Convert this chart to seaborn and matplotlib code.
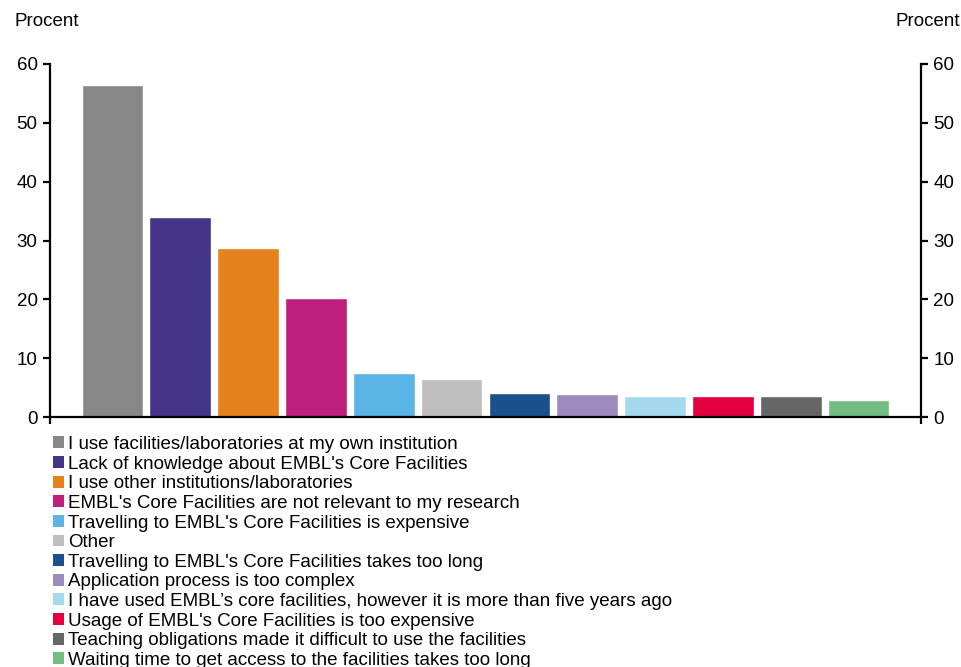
import matplotlib
matplotlib.use("Agg")
import matplotlib.pyplot as plt
import seaborn as sns
import pandas as pd
from matplotlib.patches import Patch

categories = [
    "I use facilities/laboratories at my own institution",
    "Lack of knowledge about EMBL's Core Facilities",
    "I use other institutions/laboratories",
    "EMBL's Core Facilities are not relevant to my research",
    "Travelling to EMBL's Core Facilities is expensive",
    "Other",
    "Travelling to EMBL's Core Facilities takes too long",
    "Application process is too complex",
    "I have used EMBL\u2019s core facilities, however it is more than five years ago",
    "Usage of EMBL's Core Facilities is too expensive",
    "Teaching obligations made it difficult to use the facilities",
    "Waiting time to get access to the facilities takes too long",
]
values = [56.4, 34.0, 28.7, 20.2, 7.5, 6.5, 4.1, 3.9, 3.6, 3.6, 3.6, 2.9]
colors = ["#878787", "#46338A", "#E6821E", "#BE1E7D", "#5AB4E6", "#BEBEBE",
          "#1A508C", "#9E8BBE", "#A5DAEE", "#E20041", "#666666", "#73BD82"]
yticks = [0, 10, 20, 30, 40, 50, 60]

sns.set_theme(style="white")
plt.rcParams['font.family'] = ['Liberation Sans', 'DejaVu Sans']
plt.rcParams['text.color'] = 'black'
plt.rcParams['xtick.color'] = 'black'
plt.rcParams['ytick.color'] = 'black'

df = pd.DataFrame({"cat": categories, "val": values})

fig = plt.figure(figsize=(9.62, 6.67), dpi=100)
ax = fig.add_axes([50/962, 1-417/667, (921-50)/962, (417-64)/667])

sns.barplot(data=df, x="cat", y="val", hue="cat", palette=colors,
            order=categories, hue_order=categories, width=0.91,
            legend=False, ax=ax, saturation=1)

ax.set_xlim(-0.92, 11.92)
ax.set_ylim(0, 60)
ax.set_yticks(yticks)
ax.set_yticklabels([str(t) for t in yticks])
ax.set_xticks([-0.92, 11.92])
ax.set_xticklabels(["", ""])
ax.set_xlabel("")
ax.set_ylabel("")

for s in ["left", "right", "bottom"]:
    ax.spines[s].set_visible(True)
    ax.spines[s].set_linewidth(1.6)
    ax.spines[s].set_color("black")
ax.spines["top"].set_visible(False)

ax.tick_params(axis="y", which="both", left=True, right=True, labelleft=True,
               labelright=True, direction="out", length=5, width=1.6,
               labelsize=13.5, color="black", labelcolor="black", pad=4)
ax.tick_params(axis="x", bottom=True, direction="out", length=5, width=1.6, color="black")

fig.text(15/962, 1-22/667, "Procent", fontsize=13.5, ha="left", va="center", color="black")
fig.text(960/962, 1-22/667, "Procent", fontsize=13.5, ha="right", va="center", color="black")

handles = [Patch(facecolor=c, edgecolor="none") for c in colors]
leg = fig.legend(handles, categories, loc="upper left",
                 bbox_to_anchor=(53/962, 1-436/667), frameon=False,
                 fontsize=13.5, handlelength=0.6, handleheight=0.6,
                 handletextpad=0.2, labelspacing=0.14, borderpad=0,
                 borderaxespad=0)
for t in leg.get_texts():
    t.set_color("black")

fig.savefig("out.png", dpi=100)
